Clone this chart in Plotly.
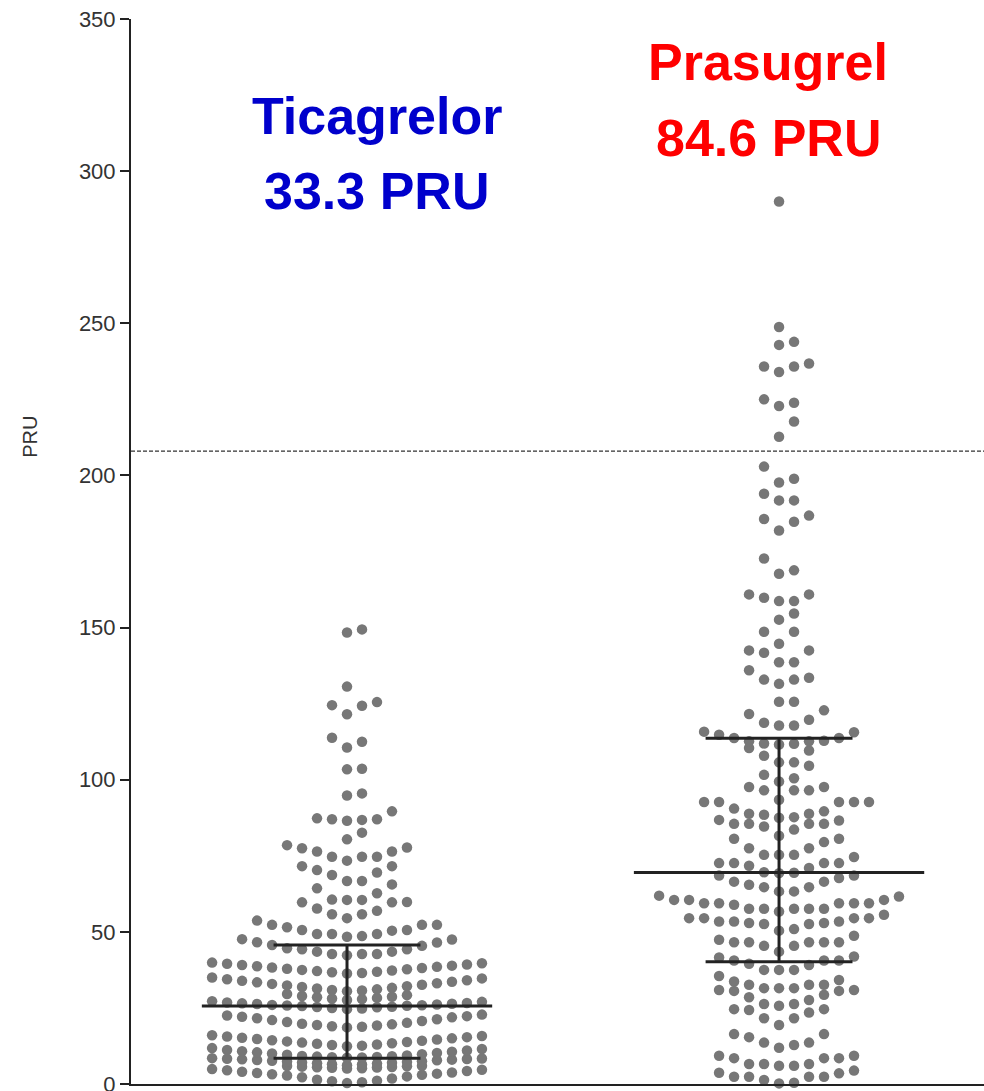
import plotly.graph_objects as go

# ---------------- data (PRU values) ----------------
groups = ["Ticagrelor", "Prasugrel"]
group_pos = [1.0, 2.0]
group_means = ["33.3 PRU", "84.6 PRU"]
group_colors = ["#0000CC", "#FF0000"]

tica_high = [148.4, 149.4, 130.6, 121.5, 124.3, 124.5, 125.5, 110.6, 112.5, 113.8,
             103.4, 103.6, 94.8, 95.5, 86.5, 86.8, 87.0, 87.0, 87.3, 89.6, 80.4, 82.6,
             73.4, 74.7, 74.7, 74.7, 76.4, 76.4, 77.5, 77.7, 78.5,
             66.7, 66.7, 68.7, 69.5, 70.3, 71.6, 71.6,
             60.5, 60.5, 60.6, 62.7, 64.3, 65.6,
             54.5, 55.8, 55.8, 56.9, 57.7, 59.7, 59.7, 59.8]
tica_mid = [48.4, 48.6, 49.3, 49.3, 49.3, 50.4, 50.6, 50.6, 51.5, 52.3, 52.3, 52.3, 53.7,
            42.3, 42.7, 42.7, 42.7, 43.5, 43.5, 44.3, 44.3, 44.6, 45.4, 45.7, 46.5, 46.6, 47.5, 47.6,
            36.3, 36.5, 36.7, 36.9, 37.1, 37.3, 37.5, 37.7, 37.9, 38.1, 38.3, 38.5, 38.7, 38.9,
            39.1, 39.3, 39.5, 39.7, 39.9,
            30.5, 30.7, 30.9, 31.1, 31.4, 31.6, 31.9, 32.1, 32.4, 32.6, 32.9, 33.1, 33.4, 33.6,
            33.9, 34.1, 34.4, 34.7, 35.0,
            24.6, 24.8, 25.0, 25.2, 25.3, 25.4, 25.6, 25.7, 25.8, 25.9, 26.0, 26.1, 26.3, 26.4,
            26.5, 26.6, 26.8, 27.0, 27.2, 27.6, 27.9, 28.1, 28.3, 28.5, 28.7, 28.9, 29.2, 29.6]
tica_low = [18.6, 18.8, 19.0, 19.2, 19.4, 19.6, 19.8, 20.1, 20.4, 20.7, 21.0, 21.3, 21.6, 21.9,
            22.1, 22.3, 22.5, 22.8,
            12.4, 12.6, 12.8, 13.0, 13.2, 13.4, 13.6, 13.8, 14.0, 14.2, 14.4, 14.6, 14.8, 15.0,
            15.2, 15.4, 15.6, 15.8, 16.0,
            6.2, 6.4, 6.5, 6.7, 6.8, 7.0, 7.1, 7.2, 7.4, 7.5, 7.6, 7.8, 7.9, 8.0, 8.1, 8.2, 8.3,
            8.4, 8.5, 8.6, 8.7, 8.8, 8.9, 9.0, 9.1, 9.2, 9.4, 9.6, 9.8, 10.0, 10.2, 10.4, 10.6,
            10.8, 11.0, 11.2, 11.5, 11.8,
            0.3, 0.6, 0.9, 1.1, 1.4, 1.8, 2.2, 2.5, 2.8, 3.0, 3.2, 3.4, 3.6, 3.8, 4.0, 4.3, 4.5,
            4.7, 4.9, 5.1, 5.2, 5.3, 5.4, 5.5, 5.6, 5.7, 5.8, 5.9, 6.0]

pras_high = [290.0, 248.8, 242.9, 243.9, 234.0, 235.8, 235.8, 236.8, 222.8, 223.9, 225.0,
             212.7, 217.7, 197.7, 198.9, 202.9, 191.8, 191.8, 194.0, 181.9, 184.8, 185.7, 186.8,
             167.7, 168.8, 172.7, 158.7, 158.7, 159.8, 160.9, 160.9, 152.6, 154.6,
             144.7, 148.6, 148.6, 138.6, 138.6, 141.7, 142.5, 142.5,
             131.5, 132.9, 132.9, 133.5, 136.0, 125.6, 125.6,
             117.8, 117.8, 118.7, 119.7, 121.6, 122.8]
pras_mid = [111.6, 111.8, 111.9, 112.6, 112.6, 112.8, 113.7, 113.7, 114.8, 115.6, 115.8,
            105.7, 105.7, 107.9, 109.6, 110.4, 99.4, 100.5, 101.6, 104.6,
            93.4, 96.5, 96.5, 96.5, 97.6, 97.6,
            87.5, 87.7, 88.5, 88.8, 88.8, 89.6, 90.5, 92.7, 92.7, 92.7, 92.7, 92.7,
            81.6, 83.6, 84.6, 85.5, 85.5, 85.5, 85.5, 86.6, 86.8,
            75.3, 75.3, 75.3, 77.5, 77.5, 79.5, 80.6, 80.6,
            69.3, 69.4, 69.6, 71.0, 71.7, 72.6, 72.6, 72.6, 72.6, 74.6,
            63.3, 63.3, 64.7, 64.7, 65.5, 66.5, 66.5, 67.7, 68.5, 68.5]
pras_low = [56.7, 57.6, 57.6, 57.6, 57.6, 57.6, 58.9, 59.4, 59.4, 59.4, 59.4, 59.4,
            60.5, 60.5, 60.5, 61.6, 61.9,
            50.4, 50.9, 52.6, 52.6, 52.9, 52.9, 53.4, 53.4, 53.4, 54.5, 54.5, 54.5, 54.5, 55.6,
            43.5, 45.4, 45.4, 46.6, 46.6, 46.6, 46.6, 46.6, 47.4, 48.7,
            37.5, 37.5, 37.5, 39.1, 39.5, 40.6, 40.6, 40.6, 41.6, 41.9,
            31.5, 31.5, 31.5, 32.6, 32.6, 32.6, 33.7, 34.2, 35.5,
            25.7, 26.3, 26.3, 27.6, 28.5, 29.3, 30.6, 30.6, 30.9, 30.9,
            19.4, 21.6, 21.6, 23.5, 24.3, 24.6, 24.6,
            11.9, 12.8, 13.6, 13.6, 15.4, 16.4, 16.4,
            6.0, 6.0, 6.6, 6.6, 6.6, 8.5, 8.5, 8.5, 9.3, 9.3,
            0.2, 0.4, 1.3, 2.4, 2.4, 2.4, 2.4, 3.5, 3.7, 4.4]

# median, Q1, Q3
tica_stats = [25.6, 8.5, 45.7]
pras_stats = [69.5, 40.2, 113.6]

threshold = [208]
y_ticks = [0, 50, 100, 150, 200, 250, 300, 350]

# ---------------- layout helpers ----------------
ROW_H = 5.75      # value band collected into one row
STEP = 0.0347     # horizontal spacing between dots (x units)
MAX_SLOTS = 19


def swarm(values, center):
    vals = sorted(values)
    order = [0]
    for k in range(1, 10):
        order += [k, -k]
    xs, ys = [], []
    i, n = 0, len(vals)
    while i < n:
        start = vals[i]
        j = i
        while j < n and vals[j] < start + ROW_H - 1e-9:
            j += 1
        for idx, v in enumerate(vals[i:j]):
            k = order[idx % MAX_SLOTS]
            xs.append(center + k * STEP)
            ys.append(v)
        i = j
    return xs, ys


data_sets = [tica_high + tica_mid + tica_low, pras_high + pras_mid + pras_low]
stats = [tica_stats, pras_stats]

fig = go.Figure()
for vals, pos in zip(data_sets, group_pos):
    xs, ys = swarm(vals, pos)
    fig.add_trace(go.Scatter(x=xs, y=ys, mode="markers", cliponaxis=False,
                             marker=dict(size=10.5, color="#777777", line=dict(width=0)),
                             hoverinfo="y", showlegend=False))

MED_HALF = 0.336
Q_HALF = 0.170
for st, pos in zip(stats, group_pos):
    med, q1, q3 = st
    line = dict(color="#222222", width=3)
    fig.add_trace(go.Scatter(x=[pos - MED_HALF, pos + MED_HALF], y=[med, med], mode="lines",
                             line=line, showlegend=False, hoverinfo="skip"))
    for q in (q1, q3):
        fig.add_trace(go.Scatter(x=[pos - Q_HALF, pos + Q_HALF], y=[q, q], mode="lines",
                                 line=line, showlegend=False, hoverinfo="skip"))
    fig.add_trace(go.Scatter(x=[pos, pos], y=[q1, q3], mode="lines",
                             line=line, showlegend=False, hoverinfo="skip"))

fig.add_shape(type="line", xref="paper", x0=0, x1=1, yref="y", y0=threshold[0], y1=threshold[0],
              line=dict(color="#333333", width=1.2, dash="4px,2px"))

title_font = dict(family="Liberation Sans, Arial", size=52, weight="bold")
label_x = [1.069, 1.975]
label_y = [(318, 293.5), (336, 311)]
for name, mean, col, lx, (y1, y2) in zip(groups, group_means, group_colors, label_x, label_y):
    fig.add_annotation(x=lx, y=y1, text=name, showarrow=False, xanchor="center", yanchor="middle",
                       font=dict(color=col, **title_font))
    fig.add_annotation(x=lx, y=y2, text=mean, showarrow=False, xanchor="center", yanchor="middle",
                       font=dict(color=col, **title_font))

fig.add_annotation(xref="paper", x=-0.118, y=212.8, text="PRU", textangle=-90, showarrow=False,
                   xanchor="center", yanchor="middle",
                   font=dict(family="Liberation Sans, Arial", size=20, color="#333333"))

fig.update_layout(
    width=984, height=1091,
    margin=dict(l=131, r=0, t=19, b=7, autoexpand=False),
    paper_bgcolor="white", plot_bgcolor="white",
    xaxis=dict(range=[0.5, 2.4744], showgrid=False, zeroline=False, showticklabels=False,
               ticks="", showline=True, linecolor="#222222", linewidth=2, automargin=False),
    yaxis=dict(range=[0, 350], tickvals=y_ticks, showgrid=False, zeroline=False,
               showline=True, linecolor="#222222", linewidth=2, ticks="outside",
               ticklen=9, tickwidth=2, tickcolor="#222222", ticklabeloverflow="allow",
               automargin=False,
               tickfont=dict(family="Liberation Sans, Arial", size=22, color="#333333")),
)

fig.write_html("out.html")
